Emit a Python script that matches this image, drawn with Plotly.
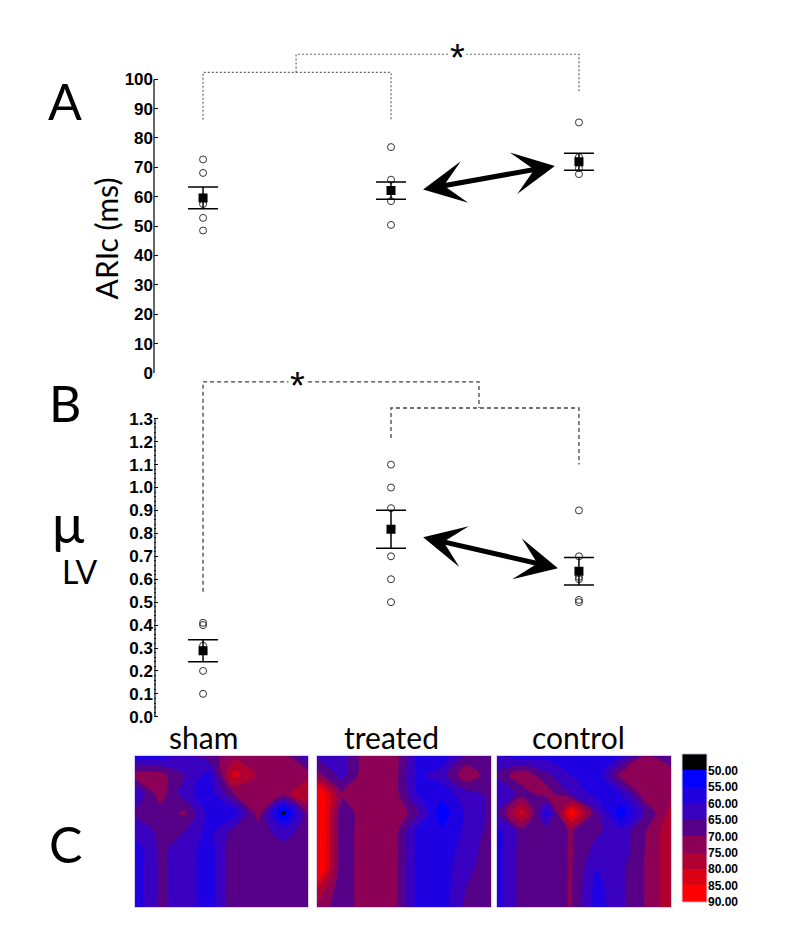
import plotly.graph_objects as go

W, H = 800, 936

# ---------------- data ----------------
groups = ["sham", "treated", "control"]

aric_sham = [72.7, 68.1, 57.5, 52.8, 48.5]
aric_treated = [76.9, 65.8, 62.0, 58.5, 50.4]
aric_control = [85.3, 73.5, 69.7, 67.7]
aric_mean = [59.6, 62.1, 71.9]
aric_sem = [3.7, 2.95, 2.9]
aric_ticks = [0, 10, 20, 30, 40, 50, 60, 70, 80, 90, 100]

mu_sham = [0.41, 0.40, 0.31, 0.20, 0.10]
mu_treated = [1.10, 1.00, 0.91, 0.70, 0.60, 0.50]
mu_control = [0.90, 0.70, 0.61, 0.60, 0.51, 0.50]
mu_mean = [0.288, 0.818, 0.635]
mu_sem = [0.048, 0.083, 0.060]
mu_ticks = [0.0, 0.1, 0.2, 0.3, 0.4, 0.5, 0.6, 0.7, 0.8, 0.9, 1.0, 1.1, 1.2, 1.3]

cb_levels = [50, 55, 60, 65, 70, 75, 80, 85, 90]
cb_labels = ["50.00", "55.00", "60.00", "65.00", "70.00", "75.00", "80.00", "85.00", "90.00"]
cb_colors = ["#000000", "#0000ff", "#1e00e1", "#3a00c0", "#560088", "#8c0055",
             "#af0032", "#dc0014", "#ff0000"]

map_cols = [0, 1, 2, 3, 4, 5, 6, 7]
map_rows = [0, 1, 2, 3, 4, 5, 6, 7, 8]

map_sham = [
    [57, 57, 62, 68, 73, 74, 73, 60],
    [73, 72, 65, 58, 82, 74, 74, 73],
    [60, 73, 62, 57, 70, 74, 73, 80],
    [66, 67, 71, 58, 57, 73, 48, 70],
    [62, 66, 65, 58, 67, 67, 63, 67],
    [57, 66, 63, 57, 69, 67, 67, 67],
    [57, 66, 63, 57, 69, 67, 67, 67],
    [57, 66, 63, 57, 69, 67, 67, 67],
    [57, 66, 63, 57, 69, 67, 67, 67],
]
map_treated = [
    [64, 62, 74, 74, 60, 57, 66, 68],
    [72, 63, 74, 74, 59, 62, 74, 67],
    [92, 70, 74, 74, 60, 57, 63, 66],
    [95, 66, 74, 75, 67, 52, 61, 66],
    [95, 66, 74, 74, 59, 56, 61, 67],
    [95, 66, 74, 74, 59, 56, 63, 67],
    [93, 66, 74, 73, 59, 57, 64, 67],
    [80, 66, 74, 73, 59, 57, 65, 67],
    [74, 66, 74, 73, 59, 57, 66, 67],
]
map_control = [
    [60, 57, 58, 56, 56, 60, 70, 66],
    [66, 74, 66, 60, 56, 72, 75, 73],
    [60, 67, 73, 64, 58, 60, 74, 74],
    [64, 82, 57, 88, 66, 52, 66, 77],
    [58, 67, 68, 70.4, 66, 62, 70, 79],
    [58, 67, 68, 70.4, 63, 62, 70.5, 79],
    [58, 67, 68, 70.4, 60, 64, 70.5, 79],
    [58, 67, 68, 70.4, 58, 64, 70.5, 79],
    [58, 67, 68, 70.4, 58, 64, 70.5, 79],
]

# ---------------- helpers ----------------
def xd(p0, p1):
    return [p0 / W, p1 / W]


def yd(top, bottom):
    return [1 - bottom / H, 1 - top / H]


def py(p):
    return 1 - p / H


xpos = list(range(len(groups)))
XR = [-0.261, 2.378]
cscale = [[i / (len(cb_colors) - 1), c] for i, c in enumerate(cb_colors)]

TICKFONT = dict(family="Liberation Sans Narrow, Arial Narrow, Liberation Sans, Arial",
                size=17, color="black", weight="bold")
LABFONT = "Lato, Carlito, Calibri, Open Sans, sans-serif"

fig = go.Figure()

# ---------------- panel A ----------------
ax_x, ax_y = [], []
for i, pts in enumerate([aric_sham, aric_treated, aric_control]):
    ax_x += [xpos[i]] * len(pts)
    ax_y += pts
fig.add_trace(go.Scatter(x=ax_x, y=ax_y, mode="markers", xaxis="x", yaxis="y",
                         marker=dict(symbol="circle-open", size=7, color="#333",
                                     line=dict(width=1))))
fig.add_trace(go.Scatter(x=xpos, y=aric_mean, mode="markers", xaxis="x", yaxis="y",
                         marker=dict(symbol="square", size=9, color="black"),
                         error_y=dict(type="data", array=aric_sem, color="black",
                                      thickness=1.5, width=15)))
# significance brackets (A)
a_low, a_high = 102.3, 108.5
a_mid = 0.495
dotA = dict(color="#666", width=1.2, dash="2px,2px")
fig.add_trace(go.Scatter(x=[xpos[0], xpos[0], xpos[1], xpos[1]], y=[86.2, a_low, a_low, 86.2],
                         mode="lines", line=dotA, xaxis="x", yaxis="y"))
fig.add_trace(go.Scatter(x=[a_mid, a_mid, xpos[2], xpos[2]], y=[a_low, a_high, a_high, 95.7],
                         mode="lines", line=dotA, xaxis="x", yaxis="y"))

# ---------------- panel B ----------------
bx, by = [], []
for i, pts in enumerate([mu_sham, mu_treated, mu_control]):
    bx += [xpos[i]] * len(pts)
    by += pts
fig.add_trace(go.Scatter(x=bx, y=by, mode="markers", xaxis="x2", yaxis="y2",
                         marker=dict(symbol="circle-open", size=7, color="#333",
                                     line=dict(width=1))))
fig.add_trace(go.Scatter(x=xpos, y=mu_mean, mode="markers", xaxis="x2", yaxis="y2",
                         marker=dict(symbol="square", size=9, color="black"),
                         error_y=dict(type="data", array=mu_sem, color="black",
                                      thickness=1.5, width=15)))
b_high, b_low = 1.461, 1.347
b_mid = 1.468
dashB = dict(color="#444", width=1.3, dash="4px,3px")
fig.add_trace(go.Scatter(x=[xpos[0], xpos[0], b_mid, b_mid], y=[0.545, b_high, b_high, b_low],
                         mode="lines", line=dashB, xaxis="x2", yaxis="y2"))
fig.add_trace(go.Scatter(x=[xpos[1], xpos[1], xpos[2], xpos[2]], y=[1.216, b_low, b_low, 1.101],
                         mode="lines", line=dashB, xaxis="x2", yaxis="y2"))

# ---------------- panel C maps ----------------
for k, m in enumerate([map_sham, map_treated, map_control]):
    fig.add_trace(go.Contour(z=m, x=map_cols, y=map_rows, xaxis="x%d" % (3 + k), yaxis="y%d" % (3 + k),
                             autocontour=False,
                             contours=dict(start=cb_levels[0], end=cb_levels[-2], size=5,
                                           coloring="fill", showlines=False),
                             colorscale=cscale, showscale=False, line=dict(width=0),
                             hoverinfo="skip"))

# colorbar as heatmap
band_centers = [v - 2.5 for v in cb_levels]
fig.add_trace(go.Heatmap(z=[[v] for v in band_centers], x=[0], y=band_centers,
                         xaxis="x6", yaxis="y6", colorscale=cscale,
                         zmin=band_centers[0], zmax=band_centers[-1], showscale=False))

# ---------------- layout ----------------
hidden = dict(visible=False, showgrid=False, zeroline=False)
layout = dict(
    width=W, height=H, margin=dict(l=0, r=0, t=0, b=0),
    paper_bgcolor="white", plot_bgcolor="rgba(0,0,0,0)", showlegend=False,
    xaxis=dict(domain=xd(154, 650), range=XR, **hidden),
    yaxis=dict(domain=yd(40, 377), range=[0, 113.5], tickvals=aric_ticks,
               ticks="inside", ticklen=4, tickcolor="black", showline=False,
               showgrid=False, zeroline=False, tickfont=TICKFONT),
    xaxis2=dict(domain=xd(154, 650), range=XR, anchor="y2", **hidden),
    yaxis2=dict(domain=yd(378, 730), range=[-0.0237, 1.4955], anchor="x2",
                tickvals=mu_ticks, ticktext=["%.1f" % v for v in mu_ticks],
                ticks="inside", ticklen=4, tickcolor="black", showline=False,
                showgrid=False, zeroline=False, tickfont=TICKFONT,
                minor=dict(tickvals=[i * 0.02 for i in range(66)], ticks="inside",
                           ticklen=2, tickcolor="#333", showgrid=False)),
)
map_px = [(135, 308), (317, 491), (497, 671)]
for k, (x0, x1) in enumerate(map_px):
    n = 3 + k
    border = dict(showline=True, linecolor="#dccdf2", linewidth=1, mirror=True,
                  ticks="", showticklabels=False, showgrid=False, zeroline=False)
    layout["xaxis%d" % n] = dict(domain=xd(x0, x1), range=[0, 7], anchor="y%d" % n, **border)
    layout["yaxis%d" % n] = dict(domain=yd(764, 917), range=[8, 0], anchor="x%d" % n, **border)
layout["xaxis6"] = dict(domain=xd(682, 707), range=[-0.5, 0.5], anchor="y6", **hidden)
layout["yaxis6"] = dict(domain=yd(762, 912), range=[90, 45], anchor="x6", side="right",
                        tickvals=cb_levels, ticktext=cb_labels, ticks="", showgrid=False,
                        zeroline=False, showline=False,
                        tickfont=dict(family="Liberation Sans, Arial", size=12, color="black",
                                      weight="bold"))

shapes = [
    dict(type="line", xref="paper", yref="y", x0=154 / W, x1=154 / W, y0=0, y1=100,
         line=dict(color="black", width=1.2)),
    dict(type="line", xref="paper", yref="y2", x0=155 / W, x1=155 / W, y0=0, y1=1.3,
         line=dict(color="black", width=1.2)),
    dict(type="rect", xref="paper", yref="paper", x0=682 / W, x1=707 / W, y0=py(912), y1=py(762),
         line=dict(color="#dccdf2", width=1)),
]

ann = []
for txt, x, y, s in [("A", 65, 102, 50), ("B", 65, 407, 50), ("C", 65, 853, 50),
                     ("μ", 68, 528, 54), ("LV", 80, 578, 32)]:
    ann.append(dict(text=txt, x=x / W, y=py(y), xref="paper", yref="paper", showarrow=False,
                    xanchor="center", yanchor="middle", font=dict(family=LABFONT, size=s, color="black")))
ann.append(dict(text="ARIc (ms)", x=106 / W, y=py(241), xref="paper", yref="paper", showarrow=False,
                textangle=-90, xanchor="center", yanchor="middle",
                font=dict(family=LABFONT, size=30, color="black")))
ann.append(dict(text="*", x=1.356, y=a_high, xref="x", yref="y", showarrow=False, yshift=-4,
                bgcolor="white", font=dict(family="Liberation Sans, Arial", size=38, color="black")))
ann.append(dict(text="*", x=0.505, y=b_high, xref="x2", yref="y2", showarrow=False, yshift=-4,
                bgcolor="white", font=dict(family="Liberation Sans, Arial", size=38, color="black")))
# double-headed arrows
for (xr, yr, hx, hy, tx, ty) in [("x", "y", 1.872, 70.5, 1.163, 62.4),
                                  ("x2", "y2", 1.888, 0.648, 1.163, 0.785)]:
    ann.append(dict(text="", x=hx, y=hy, ax=tx, ay=ty, xref=xr, yref=yr, axref=xr, ayref=yr,
                    showarrow=True, arrowhead=3, startarrowhead=3, arrowside="end+start",
                    arrowwidth=5, arrowsize=1.4, startarrowsize=1.4, arrowcolor="black",
                    standoff=0, startstandoff=0))
# map titles
for i, g in enumerate(groups):
    ann.append(dict(text=g, x=xpos[i], y=py(745), xref="x", yref="paper", showarrow=False,
                    xanchor="center", yanchor="middle", font=dict(family=LABFONT, size=30, color="black")))

layout["shapes"] = shapes
layout["annotations"] = ann
fig.update_layout(**layout)

fig.write_html("out.html", config={"displayModeBar": False},
               post_script=("document.documentElement.style.margin='0';"
                            "document.body.style.margin='0';document.body.style.padding='0';"
                            "document.documentElement.style.overflow='hidden';"
                            "document.body.style.overflow='hidden';"))
